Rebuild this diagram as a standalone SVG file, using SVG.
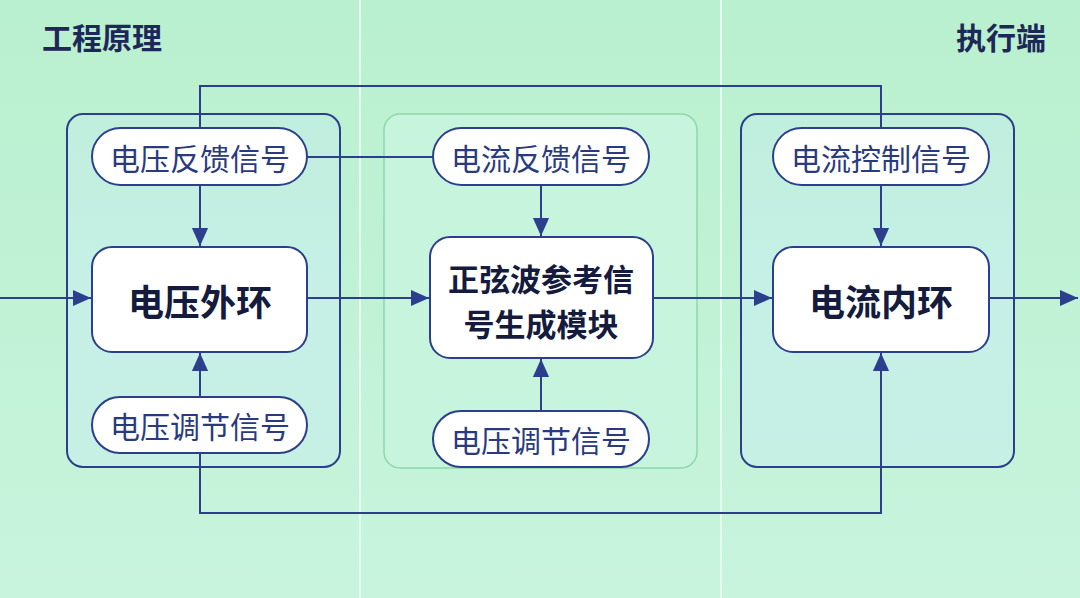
<svg xmlns="http://www.w3.org/2000/svg" width="1080" height="598" viewBox="0 0 1080 598">
<defs>
<linearGradient id="bg" x1="0" y1="0" x2="0" y2="1">
<stop offset="0" stop-color="#b9f0cf"/>
<stop offset="1" stop-color="#c8f4dd"/>
</linearGradient>
<linearGradient id="pnl" x1="0" y1="0" x2="0" y2="1">
<stop offset="0" stop-color="#c0eedd"/>
<stop offset="0.5" stop-color="#c6f0e6"/>
<stop offset="1" stop-color="#c6f0e4"/>
</linearGradient>
<marker id="ahb" viewBox="0 0 10 10" refX="10" refY="5" markerWidth="18" markerHeight="18" markerUnits="userSpaceOnUse" orient="auto">
<path d="M0,0.5 L10,5 L0,9.5 Z" fill="#2b3f8c"/>
</marker>
</defs>
<style>
.title{font-family:"Noto Sans CJK SC","Noto Sans",sans-serif;font-size:30px;font-weight:700;fill:#1e2858}
.pill{fill:#ffffff;stroke:#2b3f8c;stroke-width:2}
.box{fill:#ffffff;stroke:#2b3f8c;stroke-width:2}
.pt{font-family:"Noto Sans CJK SC","Noto Sans",sans-serif;font-size:30px;fill:#2a3a7e;text-anchor:middle;dominant-baseline:central}
.bt{font-family:"Noto Sans CJK SC","Noto Sans",sans-serif;font-size:36px;font-weight:700;fill:#151b3c;text-anchor:middle;dominant-baseline:central}
.bt2{font-family:"Noto Sans CJK SC","Noto Sans",sans-serif;font-size:31px;font-weight:700;fill:#151b3c;text-anchor:middle;dominant-baseline:central}
.ln{fill:none;stroke:#2b3f8c;stroke-width:2}
.arr{fill:none;stroke:#2b3f8c;stroke-width:2;marker-end:url(#ahb)}
</style>
<rect x="0" y="0" width="1080" height="598" fill="url(#bg)"/>
<line x1="360" y1="0" x2="360" y2="598" stroke="#e4fbef" stroke-width="2"/>
<line x1="721" y1="0" x2="721" y2="598" stroke="#e4fbef" stroke-width="2"/>
<text class="title" x="42" y="49">工程原理</text>
<text class="title" x="1046" y="49" text-anchor="end">执行端</text>

<g id="panel-left"><rect x="67" y="114" width="273" height="353" rx="16" fill="url(#pnl)" stroke="#2b3f8c" stroke-width="2"/></g>
<g id="panel-mid"><rect x="384" y="114" width="313" height="354" rx="16" fill="#c6f4dc" stroke="#8fd6a9" stroke-width="1.5"/></g>
<g id="panel-right"><rect x="741" y="114" width="273" height="353" rx="16" fill="url(#pnl)" stroke="#2b3f8c" stroke-width="2"/></g>

<g id="connectors">
<polyline class="ln" points="200,128 200,86 881,86 881,128"/>
<line class="ln" x1="307" y1="157" x2="433" y2="157"/>
<polyline class="arr" points="200,453 200,513 881,513 881,353"/>
<line class="arr" x1="0" y1="298" x2="91" y2="298"/>
<line class="arr" x1="307" y1="298" x2="429" y2="298"/>
<line class="arr" x1="653" y1="298" x2="772" y2="298"/>
<line class="arr" x1="989" y1="298" x2="1078" y2="298"/>
<line class="arr" x1="200" y1="185" x2="200" y2="246"/>
<line class="arr" x1="200" y1="397" x2="200" y2="353"/>
<line class="arr" x1="541" y1="185" x2="541" y2="236"/>
<line class="arr" x1="541" y1="411" x2="541" y2="359"/>
<line class="arr" x1="881" y1="185" x2="881" y2="246"/>
</g>

<g id="n-vfb"><rect class="pill" x="92" y="128" width="215" height="57" rx="28.5"/><text class="pt" x="200" y="157">电压反馈信号</text></g>
<g id="n-ifb"><rect class="pill" x="433" y="128" width="216" height="57" rx="28.5"/><text class="pt" x="541" y="157">电流反馈信号</text></g>
<g id="n-ictl"><rect class="pill" x="773" y="128" width="216" height="57" rx="28.5"/><text class="pt" x="881" y="157">电流控制信号</text></g>

<g id="n-vouter"><rect class="box" x="92" y="247" width="215" height="105" rx="20"/><text class="bt" x="200" y="300">电压外环</text></g>
<g id="n-sine"><rect class="box" x="430" y="237" width="223" height="121" rx="20"/><text class="bt2" x="541" y="277">正弦波参考信</text><text class="bt2" x="541" y="322">号生成模块</text></g>
<g id="n-iinner"><rect class="box" x="773" y="247" width="216" height="105" rx="20"/><text class="bt" x="881" y="300">电流内环</text></g>

<g id="n-vreg1"><rect class="pill" x="92" y="397" width="215" height="56" rx="28"/><text class="pt" x="200" y="425">电压调节信号</text></g>
<g id="n-vreg2"><rect class="pill" x="433" y="411" width="216" height="56" rx="28"/><text class="pt" x="541" y="439">电压调节信号</text></g>
</svg>
